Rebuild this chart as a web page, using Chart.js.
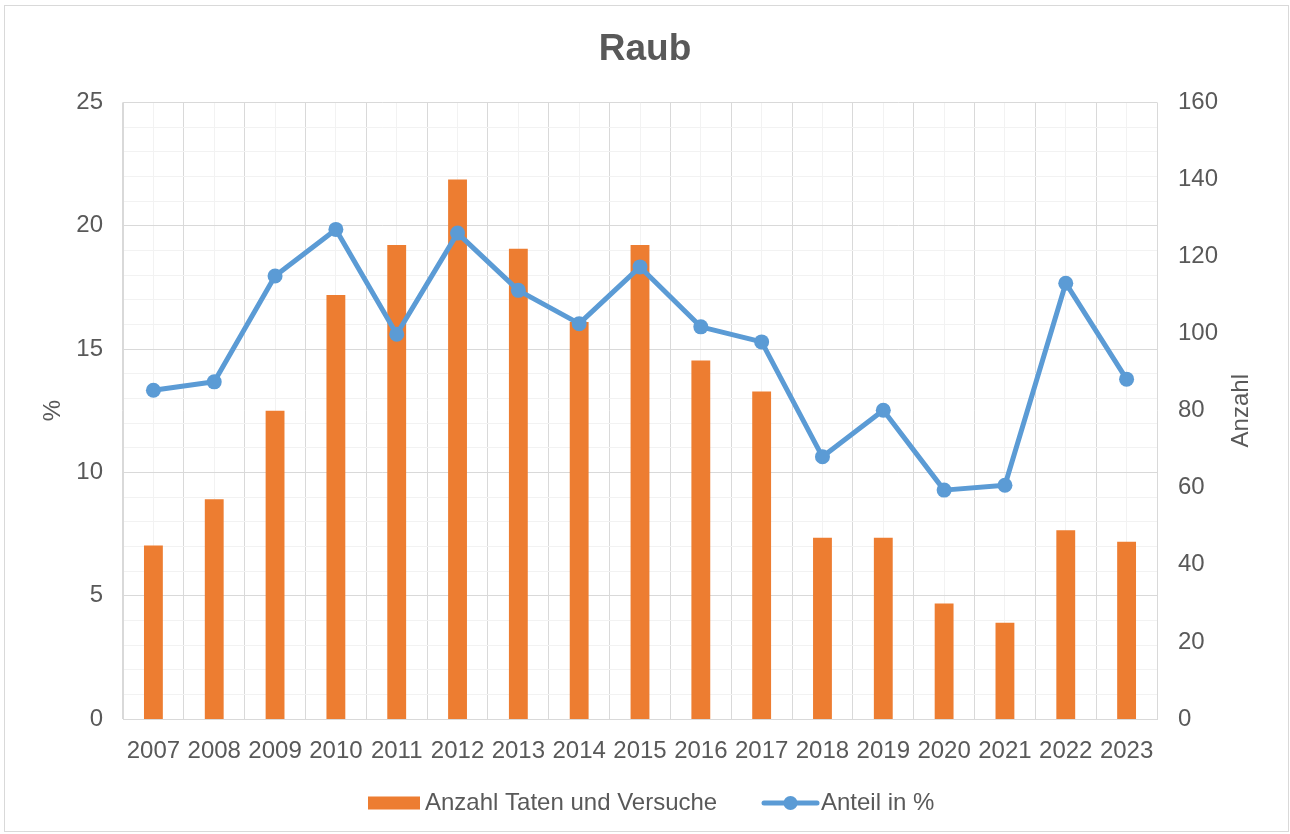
<!DOCTYPE html>
<html><head><meta charset="utf-8">
<script src="https://cdn.jsdelivr.net/npm/chart.js@4.4.1/dist/chart.umd.min.js"></script>
<style>html,body{margin:0;padding:0;background:#fff}#wrap{width:1290px;height:834px;position:relative}</style>
</head><body><div id="wrap"><canvas id="c" width="1290" height="834"></canvas></div>
<script>
const years = ['2007','2008','2009','2010','2011','2012','2013','2014','2015','2016','2017','2018','2019','2020','2021','2022','2023'];
const anzahl = [45,57,80,110,123,140,122,103,123,93,85,47,47,30,25,49,46];
const anteil = [13.33,13.67,17.96,19.85,15.60,19.70,17.38,16.03,18.33,15.90,15.29,10.63,12.52,9.28,9.48,17.67,13.78];
const leftMax = 25, leftMajor = 5, leftMinor = 1;
const rightMax = 160, rightStep = 20;
const rightTitle = 'Anzahl';

const FONT = '"Liberation Sans", Arial, sans-serif';
const TXT = '#595959';

const frame = {
  id: 'frame',
  beforeDraw(chart) {
    const c = chart.ctx;
    c.save();
    c.fillStyle = '#fff';
    c.fillRect(0, 0, chart.width, chart.height);
    c.strokeStyle = '#d9d9d9';
    c.lineWidth = 1;
    c.strokeRect(4.5, 5.5, 1284, 826);
    c.restore();
  }
};

const extras = {
  id: 'extras',
  afterDraw(chart) {
    const c = chart.ctx;
    const ds = chart.data.datasets;
    const y = 803;
    c.save();
    c.font = '24px ' + FONT;
    c.textBaseline = 'middle';
    c.textAlign = 'left';
    // bar item
    c.fillStyle = ds[0].backgroundColor;
    c.fillRect(368, y - 6.5, 52, 13);
    c.fillStyle = TXT;
    c.fillText(ds[0].label, 425, y);
    // line item
    c.strokeStyle = ds[1].borderColor;
    c.lineWidth = 5;
    c.lineCap = 'round';
    c.beginPath(); c.moveTo(764, y); c.lineTo(817, y); c.stroke();
    c.fillStyle = ds[1].borderColor;
    c.beginPath(); c.arc(790.5, y, 7, 0, Math.PI * 2); c.fill();
    c.fillStyle = TXT;
    c.fillText(ds[1].label, 821, y);
    // right axis title, reading bottom to top
    const ca = chart.chartArea;
    c.translate(1241, (ca.top + ca.bottom) / 2);
    c.rotate(-Math.PI / 2);
    c.textAlign = 'center';
    c.fillText(rightTitle, 0, 0);
    c.restore();
  }
};

new Chart(document.getElementById('c'), {
  type: 'bar',
  data: {
    labels: years,
    datasets: [
      {
        type: 'bar',
        label: 'Anzahl Taten und Versuche',
        data: anzahl,
        yAxisID: 'y1',
        xAxisID: 'x',
        backgroundColor: '#ED7D31',
        borderWidth: 0,
        barPercentage: 0.31,
        categoryPercentage: 1,
        order: 2
      },
      {
        type: 'line',
        label: 'Anteil in %',
        data: anteil,
        yAxisID: 'y',
        xAxisID: 'x',
        borderColor: '#5B9BD5',
        backgroundColor: '#5B9BD5',
        borderWidth: 5,
        borderJoinStyle: 'round',
        borderCapStyle: 'round',
        pointRadius: 7.5,
        pointBorderWidth: 0,
        pointBackgroundColor: '#5B9BD5',
        tension: 0,
        fill: false,
        order: 1
      }
    ]
  },
  options: {
    responsive: false,
    animation: false,
    devicePixelRatio: 1,
    layout: { padding: 0 },
    plugins: {
      legend: { display: false },
      tooltip: { enabled: false },
      title: {
        display: true,
        text: 'Raub',
        color: TXT,
        font: { family: FONT, size: 37, weight: 'bold' },
        padding: { top: 28, bottom: 30 }
      }
    },
    scales: {
      x: {
        type: 'category',
        position: 'bottom',
        offset: true,
        grid: { offset: true, color: '#d9d9d9', lineWidth: 1, drawTicks: false },
        border: { color: '#d9d9d9' },
        ticks: { color: TXT, font: { family: FONT, size: 24 }, padding: 18, maxRotation: 0, autoSkip: false },
        afterFit(s) { s.height = 115; }
      },
      x2: {
        type: 'category',
        labels: years,
        position: 'top',
        offset: true,
        grid: { offset: false, color: '#f2f2f2', lineWidth: 1, drawTicks: false },
        border: { display: false },
        ticks: { display: false },
        afterFit(s) { s.height = 0; }
      },
      y: {
        position: 'left',
        min: 0,
        max: leftMax,
        ticks: {
          stepSize: leftMinor,
          autoSkip: false,
          color: TXT,
          font: { family: FONT, size: 24 },
          padding: 20,
          callback: v => (v % leftMajor === 0 ? v : '')
        },
        grid: {
          drawTicks: false,
          lineWidth: 1,
          color: ctx => (ctx.tick && ctx.tick.value % leftMajor === 0 ? '#d9d9d9' : '#f2f2f2')
        },
        border: { color: '#d9d9d9' },
        title: { display: true, text: '%', color: TXT, font: { family: FONT, size: 24 }, padding: { top: 39, bottom: 0 } },
        afterFit(s) { s.width = 123; }
      },
      y1: {
        position: 'right',
        min: 0,
        max: rightMax,
        ticks: { stepSize: rightStep, color: TXT, font: { family: FONT, size: 24 }, padding: 21 },
        grid: { display: false, drawTicks: false },
        border: { display: false },
        title: { display: false },
        afterFit(s) { s.width = 133; }
      }
    }
  },
  plugins: [frame, extras]
});
</script>
</body></html>
